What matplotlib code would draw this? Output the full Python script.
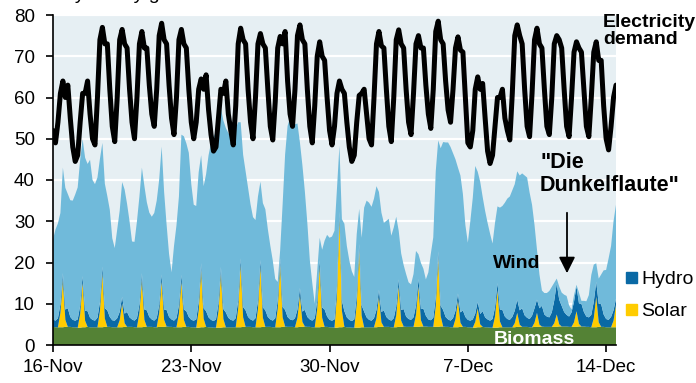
import numpy as np
import pandas as pd
import matplotlib
matplotlib.use('Agg')
import matplotlib.pyplot as plt
from matplotlib.patches import Rectangle

plt.rcParams['font.family'] = ['Liberation Sans', 'DejaVu Sans']

# readings every 3 hours (0h,3h,...,21h), one row per day from 16-Nov-2024, GW
demand = [
    [52, 49, 54, 61, 64, 60, 63, 55],
    [48, 44.5, 46, 54, 61, 61, 64, 56],
    [50, 48.5, 60, 74, 77, 73, 73, 62],
    [53, 49.3, 60, 74, 76.5, 73, 72, 62],
    [54, 50, 60, 73, 76, 72, 72, 63],
    [56, 53, 62, 75, 78, 74, 73, 63],
    [55, 51, 60, 74, 76.5, 73, 72, 62],
    [54, 50, 54, 62, 64.5, 62, 65.5, 57],
    [51, 47, 48, 55, 62, 61, 64, 56],
    [52, 48.5, 58, 73, 76.8, 74, 73, 62],
    [54, 50, 60, 73, 75.5, 73, 72, 62],
    [53, 49.7, 59, 72, 74.8, 73, 76, 64],
    [56, 53, 62, 75, 77.6, 74, 73, 62],
    [53, 49, 58, 70, 73.5, 70, 69, 60],
    [52, 48.5, 53, 61, 64, 62, 61, 54],
    [48, 44.5, 46, 54, 60.5, 61, 62, 56],
    [50, 48.5, 60, 73, 76, 72.5, 72, 62],
    [53, 49.3, 60, 74, 76.4, 73, 72, 62],
    [54, 51, 61, 73, 75, 72, 72, 63],
    [56, 52.5, 62, 76, 78.5, 74, 73, 64],
    [57, 54, 62, 72, 74.7, 71.5, 71, 60],
    [49, 48, 52, 62, 65, 62, 63.4, 55],
    [47, 44, 46, 53, 60, 60, 62, 55],
    [52, 49.7, 61, 75, 77.6, 75, 73, 62],
    [53, 50.5, 61, 74, 76.8, 73, 72, 62],
    [53, 51, 60, 73, 75, 74, 72, 62],
    [53, 50.5, 60, 71, 73.5, 72, 71, 62],
    [53, 50.5, 60, 71, 73.5, 69, 69, 58],
    [50, 47.3, 53, 60, 63],
]

wind = [
    [19.4, 22.1, 23.0, 22.2, 25.6, 29.5, 27.7, 28.3],
    [28.9, 30.6, 32.0, 35.4, 33.2, 37.1, 35.7, 38.3],
    [33.9, 33.1, 34.0, 34.8, 30.0, 30.2, 27.7, 26.0],
    [19.9, 17.6, 21.5, 24.5, 27.8, 30.1, 26.2, 23.3],
    [18.9, 19.1, 23.5, 26.2, 25.6, 30.0, 26.2, 25.3],
    [24.9, 26.1, 28.5, 30.4, 31.0, 28.5, 20.7, 15.3],
    [11.4, 18.1, 22.5, 26.4, 34.0, 42.0, 40.7, 39.8],
    [32.9, 28.1, 27.5, 31.5, 26.2, 29.6, 33.2, 39.3],
    [42.9, 44.6, 45.5, 44.8, 38.5, 45.7, 44.7, 44.8],
    [44.4, 45.6, 46.0, 43.2, 33.0, 36.9, 33.7, 31.3],
    [27.9, 25.1, 23.8, 25.3, 19.0, 25.3, 24.5, 21.3],
    [17.9, 14.6, 9.5, 4.5, 2.0, 25.0, 37.7, 46.3],
    [48.9, 47.1, 47.0, 45.1, 35.3, 35.5, 28.7, 22.8],
    [14.4, 9.1, 3.5, 7.3, 5.4, 14.0, 16.7, 19.8],
    [19.9, 20.4, 21.5, 23.8, 16.0, 19.7, 21.2, 17.3],
    [14.4, 12.1, 10.3, 15.1, 8.5, 16.4, 25.2, 28.3],
    [28.4, 27.6, 29.0, 30.0, 23.7, 24.1, 21.2, 23.3],
    [24.4, 20.6, 22.0, 21.8, 11.8, 13.7, 10.7, 10.3],
    [8.9, 8.6, 10.5, 13.3, 6.0, 11.2, 9.7, 8.8],
    [11.4, 16.1, 19.5, 30.7, 26.9, 38.2, 40.7, 42.3],
    [42.9, 42.1, 40.0, 36.7, 30.5, 33.2, 28.2, 22.3],
    [18.7, 24.1, 29.5, 35.8, 31.5, 32.1, 27.7, 25.8],
    [23.4, 21.1, 18.3, 20.5, 18.6, 24.8, 25.2, 27.6],
    [29.2, 29.9, 30.7, 30.7, 31.1, 32.7, 32.7, 33.9],
    [34.0, 30.7, 26.9, 20.2, 12.1, 8.2, 3.7, 5.2],
    [5.7, 6.4, 6.2, 4.3, 1.2, 3.2, 3.2, 4.2],
    [4.6, 2.7, 0.7, 1.6, 0.4, 2.6, 0.7, 2.7],
    [3.7, 5.4, 9.7, 9.0, 4.5, 6.1, 7.2, 10.7],
    [11.9, 14.9, 17.2, 21.6, 22.8],
]

solar = [
    [0, 0, 0, 3.5, 11.5, 1.7, 0, 0],
    [0, 0, 0, 3.3, 10.9, 1.6, 0, 0],
    [0, 0, 0, 3.9, 13.1, 2.0, 0, 0],
    [0, 0, 0, 1.7, 5.8, 0.9, 0, 0],
    [0, 0, 0, 3.5, 11.5, 1.7, 0, 0],
    [0, 0, 0, 3.3, 11.1, 1.7, 0, 0],
    [0, 0, 0, 3.3, 11.1, 1.7, 0, 0],
    [0, 0, 0, 4.2, 13.9, 2.1, 0, 0],
    [0, 0, 0, 3.9, 13.1, 2.0, 0, 0],
    [0, 0, 0, 4.5, 15.1, 2.3, 0, 0],
    [0, 0, 0, 4.4, 14.7, 2.2, 0, 0],
    [0, 0, 0, 4.5, 15.1, 2.3, 0, 0],
    [0, 0, 0, 2.3, 7.8, 1.2, 0, 0],
    [0, 0, 0, 4.4, 14.7, 2.2, 0, 0],
    [0, 0, 0, 7.9, 26.4, 4.0, 0, 0],
    [0, 0, 0, 5.6, 18.7, 2.8, 0, 0],
    [0, 0, 0, 2.2, 7.4, 1.1, 0, 0],
    [0, 0, 0, 2.9, 9.8, 1.5, 0, 0],
    [0, 0, 0, 2.9, 9.8, 1.5, 0, 0],
    [0, 0, 0, 5.0, 16.7, 2.5, 0, 0],
    [0, 0, 0, 2.0, 6.6, 1.0, 0, 0],
    [0, 0, 0, 1.4, 4.6, 0.7, 0, 0],
    [0, 0, 0, 2.7, 9.0, 1.4, 0, 0],
    [0, 0, 0, 1.0, 3.4, 0.5, 0, 0],
    [0, 0, 0, 1.0, 3.4, 0.5, 0, 0],
    [0, 0, 0, 0.9, 3.0, 0.5, 0, 0],
    [0, 0, 0, 1.1, 3.8, 0.6, 0, 0],
    [0, 0, 0, 2.2, 7.4, 1.1, 0, 0],
    [0, 0, 0, 1.6, 5.4],
]

hydro = [
    [1.8, 1.6, 2.2, 2.0, 1.6, 2.5, 4.5, 2.4],
    [1.8, 1.6, 2.0, 2.0, 1.5, 2.4, 3.8, 2.3],
    [1.8, 1.6, 2.3, 2.1, 1.6, 2.5, 4.0, 2.4],
    [1.7, 1.6, 2.2, 2.0, 1.6, 2.3, 3.6, 2.3],
    [1.8, 1.6, 2.2, 2.0, 1.6, 2.5, 4.0, 2.4],
    [1.8, 1.6, 2.2, 2.0, 1.6, 2.5, 4.0, 2.4],
    [1.8, 1.6, 2.2, 2.0, 1.6, 2.5, 3.8, 2.4],
    [1.8, 1.6, 2.0, 2.0, 1.6, 2.5, 3.8, 2.4],
    [1.8, 1.6, 2.0, 2.0, 1.6, 2.4, 3.6, 2.3],
    [1.8, 1.6, 2.2, 2.0, 1.6, 2.5, 4.0, 2.4],
    [1.8, 1.6, 2.2, 2.0, 1.6, 2.5, 4.0, 2.4],
    [1.8, 1.6, 2.2, 2.0, 1.6, 2.5, 4.0, 2.4],
    [1.8, 1.6, 2.2, 2.0, 1.6, 2.5, 4.0, 2.4],
    [1.8, 1.6, 2.2, 2.0, 1.6, 2.5, 4.2, 2.5],
    [1.8, 1.6, 2.0, 2.0, 1.6, 2.5, 3.8, 2.4],
    [1.8, 1.6, 2.0, 2.0, 1.6, 2.5, 3.8, 2.4],
    [1.8, 1.6, 2.2, 2.0, 1.6, 2.5, 4.0, 2.4],
    [1.8, 1.6, 2.2, 2.1, 1.7, 2.6, 4.2, 2.5],
    [1.9, 1.7, 2.3, 2.2, 1.8, 2.7, 4.3, 2.6],
    [1.8, 1.6, 2.2, 2.0, 1.6, 2.5, 4.0, 2.4],
    [1.8, 1.6, 2.2, 2.0, 1.6, 2.5, 4.0, 2.4],
    [1.8, 1.6, 2.0, 2.0, 1.6, 2.5, 3.8, 2.4],
    [1.9, 1.7, 2.1, 2.2, 1.8, 2.8, 4.2, 2.6],
    [2.0, 1.8, 2.5, 3.0, 3.2, 3.5, 4.5, 2.8],
    [2.2, 2.0, 2.8, 3.5, 3.2, 4.0, 5.0, 3.0],
    [2.5, 2.3, 3.5, 5.5, 7.5, 6.0, 5.0, 3.5],
    [2.8, 2.5, 3.5, 5.0, 6.0, 5.0, 5.5, 3.5],
    [2.5, 2.3, 3.0, 4.0, 3.6, 4.5, 5.5, 3.0],
    [2.0, 1.8, 2.5, 2.5, 1.5],
]

biomass = [
    [4.4, 4.3, 4.3, 4.3, 4.3, 4.4, 4.4, 4.4],
    [4.3, 4.3, 4.2, 4.2, 4.3, 4.3, 4.4, 4.3],
    [4.3, 4.3, 4.3, 4.3, 4.3, 4.4, 4.4, 4.4],
    [4.3, 4.3, 4.3, 4.3, 4.3, 4.4, 4.4, 4.4],
    [4.4, 4.3, 4.3, 4.3, 4.3, 4.4, 4.4, 4.4],
    [4.4, 4.3, 4.3, 4.4, 4.4, 4.4, 4.5, 4.4],
    [4.4, 4.3, 4.3, 4.3, 4.3, 4.4, 4.4, 4.4],
    [4.3, 4.3, 4.2, 4.2, 4.3, 4.3, 4.4, 4.3],
    [4.3, 4.2, 4.2, 4.2, 4.2, 4.3, 4.3, 4.3],
    [4.3, 4.3, 4.3, 4.3, 4.3, 4.4, 4.4, 4.4],
    [4.4, 4.3, 4.3, 4.3, 4.3, 4.4, 4.4, 4.4],
    [4.4, 4.3, 4.3, 4.3, 4.3, 4.4, 4.5, 4.4],
    [4.4, 4.4, 4.3, 4.3, 4.4, 4.4, 4.5, 4.4],
    [4.4, 4.3, 4.3, 4.3, 4.3, 4.4, 4.4, 4.4],
    [4.3, 4.3, 4.2, 4.2, 4.3, 4.3, 4.4, 4.3],
    [4.3, 4.2, 4.2, 4.2, 4.2, 4.3, 4.3, 4.3],
    [4.3, 4.3, 4.3, 4.3, 4.4, 4.4, 4.4, 4.4],
    [4.4, 4.3, 4.3, 4.3, 4.4, 4.4, 4.5, 4.4],
    [4.4, 4.4, 4.4, 4.4, 4.4, 4.5, 4.5, 4.5],
    [4.4, 4.4, 4.4, 4.4, 4.4, 4.5, 4.5, 4.4],
    [4.4, 4.3, 4.3, 4.3, 4.3, 4.4, 4.4, 4.4],
    [4.3, 4.3, 4.2, 4.2, 4.3, 4.3, 4.4, 4.3],
    [4.3, 4.2, 4.2, 4.2, 4.2, 4.3, 4.3, 4.3],
    [4.3, 4.3, 4.3, 4.3, 4.4, 4.4, 4.4, 4.4],
    [4.4, 4.3, 4.3, 4.4, 4.4, 4.4, 4.5, 4.4],
    [4.4, 4.4, 4.4, 4.4, 4.4, 4.5, 4.5, 4.5],
    [4.5, 4.4, 4.4, 4.4, 4.4, 4.5, 4.5, 4.5],
    [4.4, 4.4, 4.3, 4.3, 4.3, 4.4, 4.4, 4.4],
    [4.3, 4.3, 4.3, 4.3, 4.3],
]

tick_dates = ['2024-11-16', '2024-11-23', '2024-11-30', '2024-12-07', '2024-12-14']
tick_labels = ['16-Nov', '23-Nov', '30-Nov', '7-Dec', '14-Dec']

demand = np.concatenate(demand)
wind = np.concatenate(wind)
solar = np.concatenate(solar)
hydro = np.concatenate(hydro)
biomass = np.concatenate(biomass)
times = pd.date_range('2024-11-16 00:00', periods=len(demand), freq='3h')

W, H = 696, 383
fig = plt.figure(figsize=(W / 100, H / 100), dpi=100)
ax = fig.add_axes([53 / W, 1 - 345 / H, (616 - 53) / W, (345 - 15) / H])
ax.set_facecolor('#e6eff3')

ax.stackplot(times, biomass, solar, hydro, wind,
             colors=['#548235', '#ffcc00', '#0a69a5', '#70bada'],
             linewidth=0, zorder=2)
ax.plot(times, demand, color='black', lw=3.6, zorder=5,
        solid_joinstyle='round', solid_capstyle='round')

ax.set_ylim(0, 80)
ax.set_xlim(times[0], times[-1])
ax.set_yticks(range(0, 81, 10))
ax.set_xticks(pd.to_datetime(tick_dates))
ax.set_xticklabels(tick_labels)
ax.yaxis.grid(True, color='white', lw=1.6)
ax.set_axisbelow(True)

for s in ['top', 'right']:
    ax.spines[s].set_visible(False)
for s in ['left', 'bottom']:
    ax.spines[s].set_linewidth(1.2)
    ax.spines[s].set_zorder(6)
ax.tick_params(axis='y', direction='out', length=5, width=1.2, pad=8, labelsize=13.5)
ax.tick_params(axis='x', direction='out', length=5, width=1.2, pad=5, labelsize=13.5)


def fx(x):
    return x / W


def fy(y):
    return 1 - y / H


# title sits above the canvas, only its descenders show (as in the source image)
fig.text(fx(4), fy(-1), 'Germany hourly generation and demand', fontsize=14, va='baseline')

fig.text(fx(603), fy(14), 'Electricity\ndemand', fontsize=14, weight='bold',
         va='top', ha='left', linespacing=1.0)
fig.text(fx(540), fy(152), '"Die\nDunkelflaute"', fontsize=15.5, weight='bold',
         va='top', ha='left', linespacing=1.1)
ax.annotate('', xy=(fx(567), fy(276)), xytext=(fx(567), fy(210)),
            xycoords='figure fraction', textcoords='figure fraction',
            arrowprops=dict(arrowstyle='-|>,head_length=0.7,head_width=0.35',
                            color='black', lw=1.3, mutation_scale=14))
fig.text(fx(493), fy(268), 'Wind', fontsize=14, weight='bold', va='baseline', zorder=7)
fig.text(fx(534), fy(344.5), 'Biomass', fontsize=14, weight='bold', color='white',
         ha='center', va='baseline', zorder=7)

fig.add_artist(Rectangle((fx(626), fy(283)), 11 / W, 11 / H, transform=fig.transFigure,
                         color='#0a69a5'))
fig.text(fx(641), fy(283.5), 'Hydro', fontsize=14, va='baseline')
fig.add_artist(Rectangle((fx(626), fy(315)), 11 / W, 11 / H, transform=fig.transFigure,
                         color='#ffcc00'))
fig.text(fx(641), fy(315.5), 'Solar', fontsize=14, va='baseline')

fig.savefig('out.png', dpi=100)
